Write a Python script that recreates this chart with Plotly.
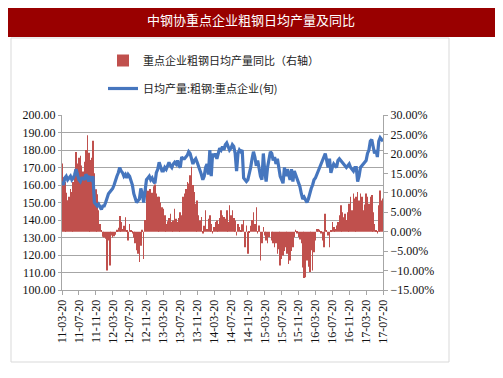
import plotly.graph_objects as go

# 10-day (旬) series, starting 2011-03-20 and ending 2017-07-20
tick_labels = ["11-03-20", "11-07-20", "11-11-20", "12-03-20", "12-07-20",
               "12-11-20", "13-03-20", "13-07-20", "13-11-20", "14-03-20",
               "14-07-20", "14-11-20", "15-03-20", "15-07-20", "15-11-20",
               "16-03-20", "16-07-20", "16-11-20", "17-03-20", "17-07-20"]

# 日均产量:粗钢:重点企业(旬), 万吨
daily_output = [
    162, 160, 164, 165, 163, 164, 165, 163, 164, 166, 169, 166,
    163, 162, 164, 164, 163, 166, 165, 162, 164, 163, 165, 150,
    149, 148, 149, 147, 146, 148, 148, 150, 153, 155, 156, 157,
    158, 160, 163, 165, 167, 170, 168, 167, 165, 166, 164, 166,
    165, 163, 160, 155, 152, 150, 151, 152, 158, 155, 150, 158,
    163, 164, 165, 163, 164, 162, 161, 167, 169, 173, 171, 168,
    168, 170, 169, 171, 173, 171, 170, 172, 173, 172, 174, 171,
    170, 176, 175, 175, 176, 177, 179, 178, 175, 172, 174, 175,
    173, 171, 169, 166, 163, 165, 170, 172, 166, 180, 165, 178,
    176, 178, 175, 179, 181, 180, 182, 180, 183, 184, 182, 180,
    181, 183, 182, 178, 168, 178, 180, 179, 180, 164, 163, 162,
    163, 166, 170, 175, 179, 176, 171, 174, 168, 165, 163, 178,
    168, 162, 170, 176, 179, 178, 174, 176, 172, 175, 170, 165,
    163, 161, 170, 165, 169, 166, 163, 169, 162, 168, 166, 164,
    161, 159, 155, 152, 153, 151, 150, 152, 156, 158, 160, 163,
    164, 166, 168, 169, 172, 174, 176, 178, 174, 170, 175, 167,
    170, 172, 171, 170, 174, 175, 174, 173, 172, 171, 170, 171,
    172, 170, 169, 168, 170, 170, 162, 165, 170, 171, 172, 173,
    174, 178, 180, 185, 186, 182, 178, 180, 176, 185, 187, 186,
    185,
]

# 重点企业粗钢日均产量同比 (%), right axis
yoy_pct = [
    17.5, 14, 12.8, 10, 8.1, 9, 11, 10.2, 12.8, 16, 20.5, 17.5,
    19, 19.5, 17, 15.5, 18, 21, 24.8, 20.3, 18.4, 19, 23.4, 15,
    10.9, 9.6, 5.5, 2, 0.2, -1.3, -1.5, -1.8, -10, -2.3, -8.7, -1,
    -1.5, -1.2, -0.8, 0.5, 1, 4, 2.5, 0.7, 1.5, 3.7, 0.3, -2.3,
    2, 0.3, -0.5, -1.5, -3, -4.8, -5.7, -7.8, -3.6, 0.5, -7, 3,
    11.5, 10.5, 11, 11, 10, 11.7, 12.1, 9.8, 9, 9, 7.5, 6.3,
    5.9, 4.2, 2, 2.7, 3.5, 4.6, 2.5, 2.9, 5.9, 3.3, 2.5, 3.5,
    5, 4.2, 9, 9.8, 11, 12.8, 12.4, 14.5, 16.7, 12, 10.2, 7.2,
    8, 4.2, 2.9, 3.8, -0.5, 1.5, 5.5, 0.7, 3.3, 4.2, 2, -0.5,
    1.2, 2.5, 2.9, 2, 3.5, 5.5, 4.2, 3.8, 3.3, 5.5, 2.5, 6.8,
    4.2, 5.5, 3.5, 2.9, -1, 2, 1.2, 0.3, 1.9, 3, -4, 1.6,
    -5.7, -0.2, 1.5, 3, 5, 2, 6.3, -0.5, 1.6, -7.4, -3, 1.2,
    -1, -2.3, -3, -1.4, 0, -2.3, -3, -4, -3, -5.7, -4.5, -8.7,
    -7, -6.1, -5, -4, -5.7, -8.3, -7.4, -5, -4, -1.4, 0.5, -0.5,
    -1.4, -2, -3, -9.2, -11.9, -11.7, -7.4, -9, -10.4, -4.8, -10, -5.3,
    -2.3, 0.7, 0.7, 0.5, -0.5, -2.3, -4, 4.6, 0.3, -1, -4, 0.3,
    2.5, 1.2, 0.7, 1.6, 2.5, 4.2, 6.8, 5, 3.7, 4.6, 3, 5,
    7.2, 9, 5.5, 9.8, 8.5, 9, 10.2, 8, 9.8, 9, 5.5, 7,
    9.8, 9, 7.2, 9, 9.4, 5, 2, 0.3, -0.5, 6.8, 10.6, 8,
    8.5,
]

periods = list(range(len(daily_output)))
tick_step = 12  # 4 months = 12 旬
tick_vals = [i * tick_step for i in range(len(tick_labels))]

SERIF = "Liberation Serif, Times New Roman, serif"
CJK = "Noto Sans CJK SC, sans-serif"
GRID = "#A6A6A6"
AXIS = "#A6A6A6"

fig = go.Figure()
fig.add_trace(go.Bar(
    x=periods, y=yoy_pct, name="重点企业粗钢日均产量同比（右轴）",
    marker=dict(color="#C0504D", line=dict(width=0)),
    yaxis="y", legendgroup="a",
))
fig.add_trace(go.Scatter(
    x=periods, y=daily_output, name="日均产量:粗钢:重点企业(旬)",
    mode="lines", line=dict(color="#4676BE", width=3.2),
    yaxis="y2", legendgroup="b",
))

# page body adds an 8px margin: lay out in screen pixels minus that offset
OFF = 8
W, H = 503 - OFF, 378 - OFF
L, R, T, B = 62 - OFF, 383 - OFF, 115 - OFF, 290 - OFF
pw, ph = R - L, B - T


def px(x):
    return (x - OFF - L) / pw


def py(y):
    return (B - (y - OFF)) / ph


fig.update_layout(
    width=W, height=H,
    margin=dict(l=L, r=W - R, t=T, b=H - B, pad=0),
    paper_bgcolor="white", plot_bgcolor="white",
    bargap=0.6,
    showlegend=True,
    legend=dict(
        x=px(103), y=py(46), xanchor="left", yanchor="top",
        font=dict(family=CJK, size=11, color="#222222"),
        tracegroupgap=9, bgcolor="rgba(0,0,0,0)",
        itemwidth=30,
    ),
    xaxis=dict(
        range=[0, tick_vals[-1]],
        tickmode="array", tickvals=tick_vals, ticktext=tick_labels,
        tickangle=-90, ticks="outside", ticklen=4, tickcolor=AXIS,
        showline=True, linecolor=AXIS, linewidth=1,
        showgrid=False, zeroline=False,
        tickfont=dict(family=SERIF, size=12, color="#111111"),
    ),
    yaxis=dict(
        side="right", range=[-15, 30], dtick=5, tick0=0,
        tickformat=".2f", ticksuffix="%",
        ticks="outside", ticklen=4, tickcolor=AXIS,
        showline=True, linecolor=AXIS, linewidth=1,
        showgrid=False, zeroline=False,
        tickfont=dict(family=SERIF, size=12, color="#111111"),
    ),
    yaxis2=dict(
        side="left", overlaying="y", range=[100, 200], dtick=10,
        tickformat=".2f",
        ticks="outside", ticklen=3, tickcolor=AXIS,
        showline=True, linecolor=AXIS, linewidth=1,
        showgrid=True, gridcolor=GRID, gridwidth=1, zeroline=False,
        tickfont=dict(family=SERIF, size=12, color="#111111"),
    ),
)

# chart frame and title bar
fig.add_shape(type="rect", xref="paper", yref="paper",
              x0=px(11), x1=px(449), y0=py(362), y1=py(38),
              line=dict(color="#D9D9D9", width=1), fillcolor="rgba(0,0,0,0)",
              layer="below")
fig.add_shape(type="rect", xref="paper", yref="paper",
              x0=px(3), x1=px(500), y0=py(37), y1=py(3),
              line=dict(width=0), fillcolor="#990000", layer="below")
fig.add_annotation(text="中钢协重点企业粗钢日均产量及同比", xref="paper", yref="paper",
                   x=px(251), y=py(20), showarrow=False,
                   xanchor="center", yanchor="middle",
                   font=dict(family=CJK, size=13, color="white"))

fig.write_html("out.html")
